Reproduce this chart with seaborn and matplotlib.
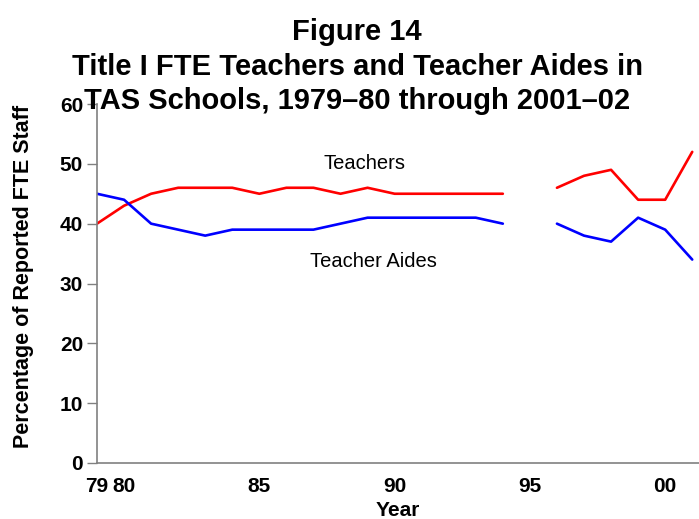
import numpy as np
import pandas as pd
import matplotlib
matplotlib.use('Agg')
import matplotlib.pyplot as plt
import seaborn as sns

# Values (1995 has no data)
years = list(range(1979, 2002))
teachers = [40, 43, 45, 46, 46, 46, 45, 46, 46, 45, 46, 45, 45, 45, 45, 45,
            np.nan, 46, 48, 49, 44, 44, 52]
aides = [45, 44, 40, 39, 38, 39, 39, 39, 39, 40, 41, 41, 41, 41, 41, 40,
         np.nan, 40, 38, 37, 41, 39, 34]
tick_years = [1979, 1980, 1985, 1990, 1995, 2000]
tick_labels = ['79', '80', '85', '90', '95', '00']
y_ticks = [0, 10, 20, 30, 40, 50, 60]


def build_frame():
    """Long-form table; the gap year splits each line into two pieces."""
    rows = []
    for name, vals in [('Teachers', teachers), ('Teacher Aides', aides)]:
        for yr, v in zip(years, vals):
            if np.isnan(v):
                continue
            rows.append({'year': yr, 'value': v, 'series': name,
                         'period': 'early' if yr < 1995 else 'late'})
    return pd.DataFrame(rows)


def main():
    sns.set_style('white')
    plt.rcParams['font.family'] = ['Liberation Sans', 'DejaVu Sans']
    plt.rcParams['text.color'] = 'black'
    plt.rcParams['axes.labelcolor'] = 'black'

    df = build_frame()

    fig = plt.figure(figsize=(6.99, 5.19), dpi=100)
    ax = fig.add_axes([97 / 699, 56 / 519, 602 / 699, 359 / 519])

    sns.lineplot(data=df, x='year', y='value', hue='series', units='period',
                 estimator=None, palette={'Teachers': '#ff0000', 'Teacher Aides': '#0000ff'},
                 linewidth=1.9, legend=False, ax=ax)

    ax.set_xlim(1979, 2001.25)
    ax.set_ylim(0, 60)
    ax.set_yticks(y_ticks)
    ax.set_xticks(tick_years)
    ax.set_xticklabels(tick_labels)

    for side in ['top', 'right']:
        ax.spines[side].set_visible(False)
    for side in ['left', 'bottom']:
        ax.spines[side].set_color('#808080')
        ax.spines[side].set_linewidth(1.2)

    ax.tick_params(axis='y', direction='out', length=7, width=1.0, color='#808080',
                   labelcolor='black', labelsize=15, pad=3, left=True)
    ax.tick_params(axis='x', length=0, labelcolor='black', labelsize=15, pad=10)
    for lab in ax.get_xticklabels() + ax.get_yticklabels():
        lab.set_fontweight('bold')

    ax.set_xlabel('Year', fontsize=15, fontweight='bold', labelpad=4)
    ax.set_ylabel('Percentage of Reported FTE Staff', fontsize=15.5, fontweight='bold')
    ax.yaxis.set_label_coords(-0.105, 0.52)

    ax.text(1988.9, 50, 'Teachers', fontsize=14.5, ha='center', va='center')
    ax.text(1989.2, 33.7, 'Teacher Aides', fontsize=14.5, ha='center', va='center')

    fig.text(357 / 699, 1 - 18 / 519,
             'Figure 14\nTitle I FTE Teachers and Teacher Aides in\nTAS Schools, 1979\u201380 through 2001\u201302',
             fontsize=21, fontweight='bold', ha='center', va='top', linespacing=1.3)

    fig.savefig('out.png', dpi=100)


if __name__ == "__main__":
    main()
